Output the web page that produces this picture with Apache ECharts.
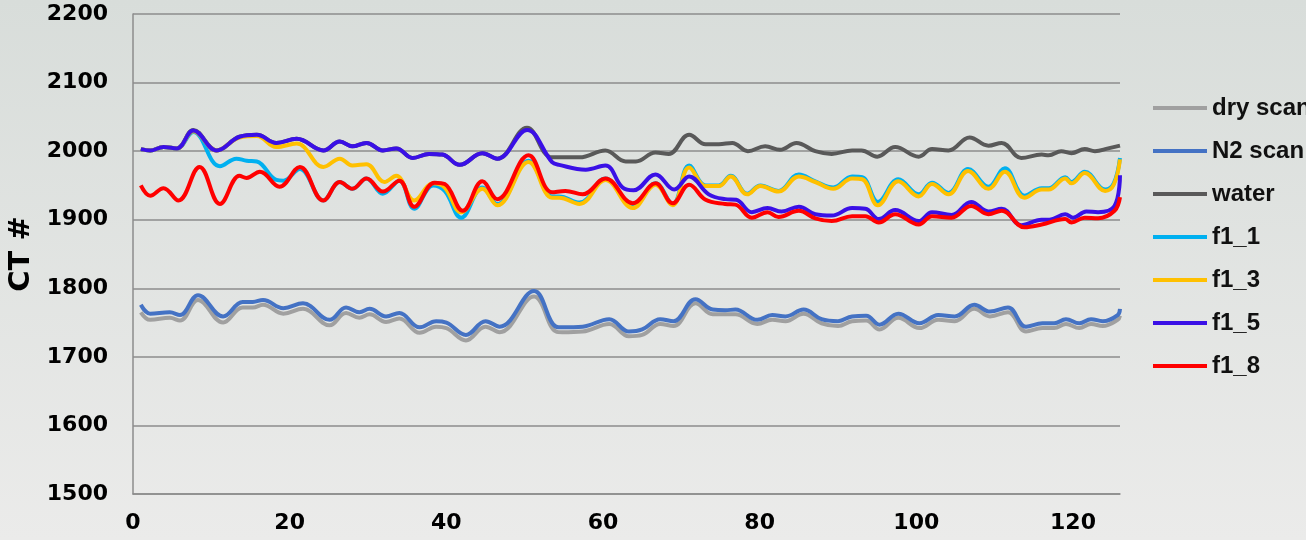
<!DOCTYPE html>
<html>
<head>
<meta charset="utf-8">
<script src="https://cdn.jsdelivr.net/npm/echarts@6/dist/echarts.min.js"></script>
<style>
html, body { margin: 0; padding: 0; }
#chart { width: 1306px; height: 540px; }
</style>
</head>
<body>
<div id="chart"></div>
<script>
var xTicks = [0, 20, 40, 60, 80, 100, 120];
var yTicks = [1500, 1600, 1700, 1800, 1900, 2000, 2100, 2200];

var xScan = [1, 2.2, 4.7, 6, 8.3, 11.5, 14, 15.3, 16.6, 19.2, 21.7, 25.1, 27.2, 28.9, 30.2, 32.3, 34, 36.6, 38.7, 40, 42.5, 45, 46.8, 51.2, 54, 54.8, 57.4, 60.8, 63.3, 65, 67.3, 69, 71.8, 74, 75.6, 76.9, 79.7, 81.6, 83.3, 85.6, 87.9, 90, 91.8, 93.6, 95.3, 97.7, 100.4, 102.8, 104.9, 107.4, 109.4, 111.7, 114, 116.1, 117.6, 119.1, 120.8, 122.3, 123.8, 125.7, 126];
var dryScan = [1765, 1754, 1757, 1753, 1783, 1750, 1772, 1772, 1776, 1763, 1770, 1746, 1764, 1757, 1762, 1751, 1756, 1735, 1744, 1742, 1724, 1744, 1736, 1788, 1737, 1736, 1737, 1748, 1730, 1732, 1748, 1745, 1778, 1762, 1762, 1762, 1748, 1754, 1752, 1763, 1749, 1745, 1752, 1753, 1740, 1757, 1742, 1754, 1752, 1770, 1759, 1765, 1737, 1742, 1742, 1748, 1742, 1748, 1745, 1754, 1760];
var n2Scan = [1776, 1763, 1765, 1761, 1790, 1759, 1780, 1780, 1783, 1771, 1778, 1754, 1772, 1765, 1770, 1759, 1764, 1743, 1752, 1750, 1732, 1752, 1744, 1796, 1744, 1743, 1744, 1755, 1737, 1740, 1755, 1752, 1784, 1769, 1768, 1769, 1754, 1761, 1759, 1769, 1755, 1752, 1759, 1760, 1747, 1763, 1749, 1761, 1759, 1776, 1766, 1772, 1744, 1749, 1749, 1755, 1749, 1755, 1752, 1761, 1770];

var xWater = [1, 2.2, 3.9, 5.6, 7.7, 10.7, 13.6, 15.8, 18.3, 20.9, 24.3, 26.4, 28, 29.8, 31.9, 33.6, 35.7, 37.8, 39.5, 41.7, 44.6, 46.5, 50.3, 53.5, 57, 60.3, 62.9, 64.2, 66.7, 68.4, 71, 73.1, 74.8, 76.5, 78.5, 80.7, 82.6, 84.7, 87.1, 89.2, 91.8, 93, 95, 97.3, 100.3, 102, 104.1, 106.8, 109.2, 110.9, 113.4, 116, 116.9, 118.5, 119.8, 121.5, 122.8, 124.5, 126];
var water = [2003, 2001, 2006, 2004, 2031, 2001, 2021, 2024, 2012, 2018, 2001, 2014, 2007, 2012, 2001, 2004, 1990, 1996, 1995, 1980, 1997, 1989, 2034, 1991, 1991, 2001, 1985, 1985, 1998, 1996, 2024, 2010, 2010, 2012, 2000, 2007, 2002, 2012, 2000, 1996, 2001, 2001, 1992, 2006, 1992, 2003, 2001, 2020, 2008, 2012, 1990, 1995, 1994, 2000, 1997, 2003, 2000, 2004, 2008];

var xF1 = [1, 2.2, 3.9, 5.6, 7.7, 11.1, 13.2, 14.5, 15.8, 18.3, 19.2, 21.3, 24.3, 26.4, 28, 29.8, 31.9, 34, 35.9, 38.3, 39.8, 41.9, 44.6, 46.5, 50.5, 53.5, 54.4, 57, 60.3, 63.8, 66.7, 68.9, 71, 73.1, 74.8, 76.3, 78.4, 80.1, 82.4, 85, 87.1, 89.4, 91.8, 93.1, 95.1, 97.7, 100.3, 102, 104.1, 106.6, 109.2, 111.3, 113.8, 116, 116.9, 119, 119.8, 121.5, 124.1, 125.2, 126];
var f1_1 = [2003, 2001, 2006, 2004, 2028, 1978, 1989, 1986, 1985, 1958, 1957, 1974, 1928, 1955, 1945, 1960, 1938, 1957, 1916, 1950, 1942, 1903, 1947, 1923, 1986, 1934, 1934, 1925, 1960, 1919, 1953, 1923, 1979, 1950, 1950, 1964, 1938, 1950, 1942, 1966, 1956, 1947, 1963, 1962, 1926, 1959, 1937, 1954, 1939, 1974, 1948, 1975, 1935, 1946, 1946, 1962, 1955, 1970, 1944, 1953, 1990];

var xF3 = [1, 2.2, 3.9, 5.6, 7.7, 10.7, 13.6, 15.8, 18.3, 20.9, 24.3, 26.4, 28, 29.8, 32.1, 33.6, 35.9, 38.3, 39.8, 41.9, 44.6, 46.5, 50.5, 53.5, 54.4, 57, 60.3, 63.8, 66.7, 68.9, 71, 73.1, 74.8, 76.3, 78.4, 80.1, 82.4, 85, 87.1, 89.4, 91.8, 93.1, 95.1, 97.7, 100.3, 102, 104.1, 106.6, 109.2, 111.3, 113.8, 116, 116.9, 119, 119.8, 121.5, 124.1, 125.2, 126];
var f1_3 = [2003, 2001, 2006, 2004, 2029, 2001, 2020, 2022, 2006, 2011, 1977, 1989, 1979, 1981, 1955, 1964, 1928, 1953, 1947, 1911, 1945, 1921, 1984, 1932, 1932, 1923, 1958, 1917, 1951, 1921, 1976, 1949, 1949, 1963, 1937, 1949, 1941, 1963, 1955, 1945, 1960, 1959, 1921, 1956, 1934, 1952, 1937, 1971, 1945, 1970, 1932, 1944, 1944, 1960, 1953, 1968, 1942, 1951, 1988];

var xF5 = [1, 2.2, 3.9, 5.6, 7.7, 10.7, 13.6, 15.8, 18.3, 20.9, 24.3, 26.4, 28, 29.8, 31.9, 33.6, 35.7, 37.8, 39.5, 41.7, 44.6, 46.5, 50.3, 53.5, 54.4, 57.8, 60.3, 62.5, 63.9, 66.7, 69.1, 71, 73.5, 75.6, 77, 79, 81, 82.8, 85, 87.1, 89.2, 91.8, 93.5, 95.2, 97.3, 100.3, 102, 104.5, 107, 109.2, 110.9, 113.4, 116, 117, 119, 120, 121.7, 123.2, 125.3, 126];
var f1_5 = [2003, 2001, 2006, 2004, 2030, 2001, 2021, 2024, 2012, 2018, 2001, 2014, 2007, 2012, 2001, 2004, 1990, 1996, 1995, 1980, 1997, 1989, 2031, 1984, 1980, 1973, 1979, 1947, 1943, 1966, 1944, 1963, 1937, 1930, 1929, 1911, 1917, 1912, 1919, 1908, 1906, 1917, 1916, 1901, 1914, 1898, 1911, 1907, 1926, 1912, 1916, 1892, 1900, 1900, 1908, 1903, 1912, 1911, 1920, 1965];

var xF8 = [1, 2.2, 3.9, 5.8, 8.5, 11.1, 13.6, 14.5, 16.2, 18.7, 21.3, 24.3, 26.4, 28, 29.8, 31.9, 34, 35.9, 38.5, 39.8, 42.1, 44.6, 46.5, 50.5, 53.5, 55.2, 57.4, 60.3, 63.8, 66.7, 68.9, 71, 73.1, 75.6, 76.9, 79, 81, 82.4, 85, 87.1, 89.2, 91.8, 93.5, 95.2, 97.3, 100.3, 102, 104.5, 107, 109.2, 110.9, 113.8, 116, 119, 119.8, 121.5, 123.2, 125.3, 126];
var f1_8 = [1950, 1935, 1946, 1928, 1977, 1923, 1964, 1961, 1970, 1948, 1977, 1928, 1955, 1945, 1960, 1941, 1957, 1919, 1954, 1952, 1913, 1956, 1930, 1994, 1940, 1942, 1937, 1960, 1924, 1953, 1924, 1951, 1929, 1923, 1922, 1903, 1911, 1904, 1913, 1902, 1898, 1905, 1905, 1896, 1908, 1893, 1905, 1903, 1920, 1908, 1913, 1889, 1893, 1901, 1896, 1903, 1902, 1913, 1933];

function pairs(xs, ys) {
	return xs.map(function(x, i){ return [x, ys[i]]; });
}

function lineSeries(name, xs, ys, color) {
	return {
		name: name,
		type: 'line',
		data: pairs(xs, ys),
		smooth: 0.4,
		showSymbol: false,
		symbol: 'none',
		lineStyle: { width: 4, color: color },
		itemStyle: { color: color }
	};
}

var chart = echarts.init(document.getElementById('chart'));

var option = {
	animation: false,
	backgroundColor: {
		type: 'linear', x: 0, y: 0, x2: 0, y2: 1,
		colorStops: [
			{ offset: 0, color: '#d8ddda' },
			{ offset: 1, color: '#ebebea' }
		]
	},
	grid: { left: 133, right: 186, top: 14, bottom: 46, containLabel: false, outerBoundsMode: 'none' },
	legend: {
		orient: 'vertical',
		left: 1153,
		top: 96,
		padding: 0,
		itemWidth: 54,
		itemHeight: 4,
		itemGap: 19,
		icon: 'rect',
		textStyle: {
			fontFamily: 'Liberation Sans',
			fontWeight: 'bold',
			fontSize: 24,
			lineHeight: 24,
			color: '#111'
		}
	},
	xAxis: {
		type: 'value',
		min: 0,
		max: 126,
		interval: 20,
		axisLine: { show: true, lineStyle: { color: '#8c8c8c', width: 1.5 } },
		axisTick: { show: false },
		splitLine: { show: false },
		axisLabel: {
			margin: 18,
			fontFamily: 'DejaVu Sans',
			fontWeight: 'bold',
			fontSize: 22,
			color: '#000',
			formatter: function(v){ return xTicks.indexOf(v) >= 0 ? String(v) : ''; }
		}
	},
	yAxis: {
		type: 'value',
		min: yTicks[0],
		max: yTicks[yTicks.length - 1],
		interval: 100,
		name: 'CT #',
		nameLocation: 'middle',
		nameGap: 95,
		nameTextStyle: {
			fontFamily: 'DejaVu Sans',
			fontWeight: 'bold',
			fontSize: 29,
			color: '#000'
		},
		axisLine: { show: true, lineStyle: { color: '#8c8c8c', width: 1.5 } },
		axisTick: { show: false },
		splitLine: { show: true, lineStyle: { color: '#8c8c8c', width: 1.5 } },
		axisLabel: {
			margin: 25,
			fontFamily: 'DejaVu Sans',
			fontWeight: 'bold',
			fontSize: 22,
			color: '#000',
			formatter: function(v){ return String(v); }
		}
	},
	series: [
		lineSeries('dry scan', xScan, dryScan, '#a0a0a0'),
		lineSeries('N2 scan', xScan, n2Scan, '#4472c4'),
		lineSeries('water', xWater, water, '#595959'),
		lineSeries('f1_1', xF1, f1_1, '#00b0f0'),
		lineSeries('f1_3', xF3, f1_3, '#ffc000'),
		lineSeries('f1_5', xF5, f1_5, '#3a10e6'),
		lineSeries('f1_8', xF8, f1_8, '#ff0000')
	]
};

chart.setOption(option);
</script>
</body>
</html>
